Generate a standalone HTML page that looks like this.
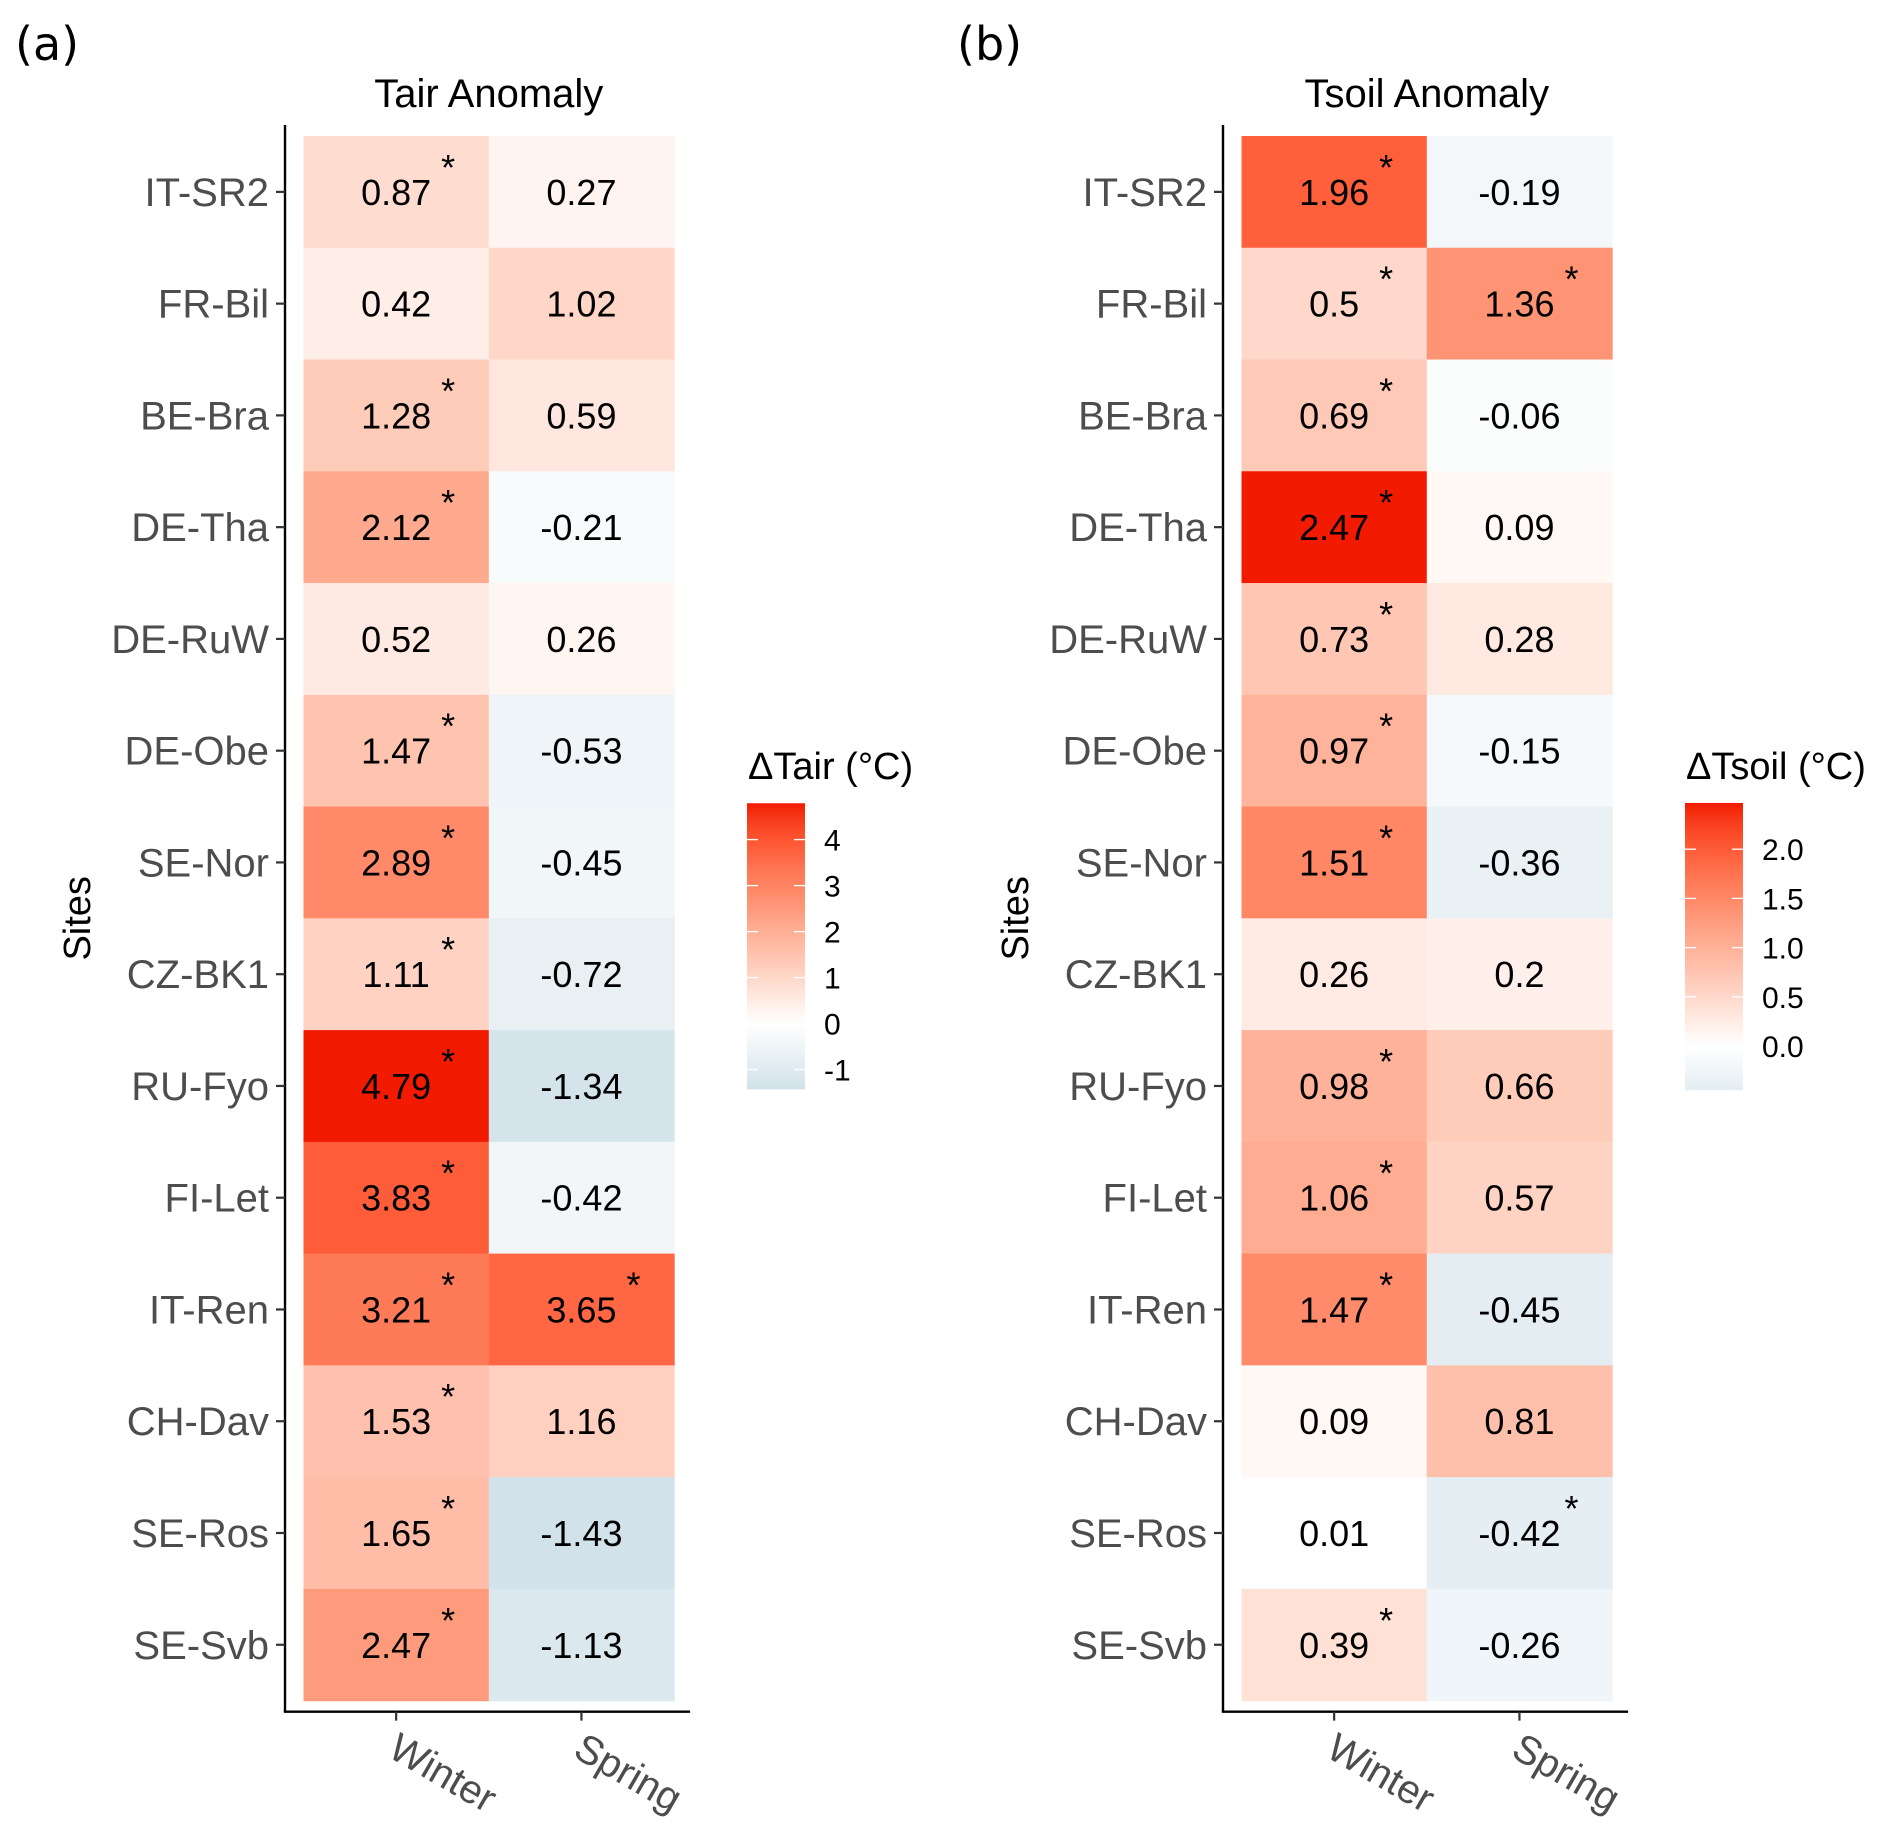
<!DOCTYPE html>
<html><head><meta charset="utf-8">
<style>
html,body{margin:0;padding:0;background:#fff;}
svg{display:block;font-family:"Liberation Sans",Arial,sans-serif;}
</style></head>
<body>
<svg id="chart" width="1892" height="1835" viewBox="0 0 1892 1835" xmlns="http://www.w3.org/2000/svg">
<defs id="defs"></defs>
</svg>
<script>
const sites = ["IT-SR2","FR-Bil","BE-Bra","DE-Tha","DE-RuW","DE-Obe","SE-Nor","CZ-BK1","RU-Fyo","FI-Let","IT-Ren","CH-Dav","SE-Ros","SE-Svb"];
const seasons = ["Winter","Spring"];
const tairWinter = [0.87,0.42,1.28,2.12,0.52,1.47,2.89,1.11,4.79,3.83,3.21,1.53,1.65,2.47];
const tairSpring = [0.27,1.02,0.59,-0.21,0.26,-0.53,-0.45,-0.72,-1.34,-0.42,3.65,1.16,-1.43,-1.13];
const tairWinterSig = [1,0,1,1,0,1,1,1,1,1,1,1,1,1];
const tairSpringSig = [0,0,0,0,0,0,0,0,0,0,1,0,0,0];
const tsoilWinter = [1.96,0.5,0.69,2.47,0.73,0.97,1.51,0.26,0.98,1.06,1.47,0.09,0.01,0.39];
const tsoilSpring = [-0.19,1.36,-0.06,0.09,0.28,-0.15,-0.36,0.2,0.66,0.57,-0.45,0.81,-0.42,-0.26];
const tsoilWinterSig = [1,1,1,1,1,1,1,0,1,1,1,0,0,1];
const tsoilSpringSig = [0,1,0,0,0,0,0,0,0,0,0,0,1,0];
const tairTicks = [-1,0,1,2,3,4];
const tsoilTicks = ["0.0","0.5","1.0","1.5","2.0"];

const NS="http://www.w3.org/2000/svg";
const svg=document.getElementById('chart');
const defs=document.getElementById('defs');
function mk(tag,attrs,parent){const e=document.createElementNS(NS,tag);for(const k in attrs)e.setAttribute(k,attrs[k]);(parent||svg).appendChild(e);return e;}

function s2l(c){c/=255;return c<=0.04045?c/12.92:Math.pow((c+0.055)/1.055,2.4);}
function l2s(c){c=c<=0.0031308?12.92*c:1.055*Math.pow(c,1/2.4)-0.055;return Math.max(0,Math.min(255,Math.round(c*255)));}
function rgb2lab(r,g,b){r=s2l(r);g=s2l(g);b=s2l(b);
 let x=(r*0.4124+g*0.3576+b*0.1805)/0.95047,y=(r*0.2126+g*0.7152+b*0.0722),z=(r*0.0193+g*0.1192+b*0.9505)/1.08883;
 const f=t=>t>0.008856?Math.cbrt(t):7.787*t+16/116;x=f(x);y=f(y);z=f(z);return[116*y-16,500*(x-y),200*(y-z)];}
function lab2rgb(L,a,bb){let y=(L+16)/116,x=a/500+y,z=y-bb/200;
 const fi=t=>t*t*t>0.008856?t*t*t:(t-16/116)/7.787;x=fi(x)*0.95047;y=fi(y);z=fi(z)*1.08883;
 const r=x*3.2406+y*-1.5372+z*-0.4986,g=x*-0.9689+y*1.8758+z*0.0415,b=x*0.0557+y*-0.2040+z*1.0570;
 return `rgb(${l2s(r)},${l2s(g)},${l2s(b)})`;}
const HI=rgb2lab(242,26,0), LO=rgb2lab(100,160,186), WH=rgb2lab(255,255,255);
function colorFor(v,maxAbs){const t=Math.min(1,Math.abs(v)/maxAbs);const c=v>=0?HI:LO;
 return lab2rgb(WH[0]+(c[0]-WH[0])*t,WH[1]+(c[1]-WH[1])*t,WH[2]+(c[2]-WH[2])*t);}

const gridTop=136, rowH=111.76, colW=185.3;
function drawPanel(cfg){
 const {x0,axisX,letter,letterX,title,winter,spring,wSig,sSig,legTitle,legX,legTicks,pxPerUnit,zeroY,key}=cfg;
 const vals=winter.concat(spring);const mx=Math.max(...vals),mn=Math.min(...vals);const maxAbs=Math.max(mx,-mn);
 const yScale=i=>gridTop+i*rowH, xScale=j=>x0+j*colW;
 const g=mk('g',{});
 
 
 const L=mk('text',{x:letterX,y:60,'font-size':46,fill:'#000','font-family':'"DejaVu Sans",sans-serif'},g);L.textContent=letter;
 
 
 const T=mk('text',{x:x0+colW,y:107,'font-size':40,'text-anchor':'middle',fill:'#000'},g);T.textContent=title;
 
 
 [winter,spring].forEach((arr,j)=>{const sig=j?sSig:wSig;
  arr.forEach((v,i)=>{
   const r=mk('rect',{x:xScale(j),y:yScale(i),width:colW+0.6,height:rowH+0.6,fill:colorFor(v,maxAbs)},g);
   
   
   const cx=xScale(j)+colW/2, cy=yScale(i)+rowH/2;
   const t=mk('text',{x:cx,y:cy+13,'font-size':36,'text-anchor':'middle',fill:'#000'},g);t.textContent=String(v);
   
   
   if(sig[i]){const s=mk('text',{x:cx+52,y:cy-12,'font-size':36,'text-anchor':'middle',fill:'#000'},g);s.textContent='*';
    
    }
  });});
 const bottom=gridTop+14*rowH;
 const ya=mk('line',{x1:axisX,y1:125,x2:axisX,y2:bottom+11,stroke:'#000','stroke-width':2.4},g);
 
 
 const xa=mk('line',{x1:axisX-1.2,y1:bottom+11,x2:x0+2*colW+16,y2:bottom+11,stroke:'#000','stroke-width':2.4},g);
 
 
 sites.forEach((s,i)=>{const cy=yScale(i)+rowH/2;
  mk('line',{x1:axisX-9,y1:cy,x2:axisX,y2:cy,stroke:'#333','stroke-width':2.2},g);
  const t=mk('text',{x:axisX-16,y:cy+14,'font-size':40,'text-anchor':'end',fill:'#4d4d4d'},g);t.textContent=s;
  
  });
 seasons.forEach((s,j)=>{const cx=xScale(j)+colW/2;
  mk('line',{x1:cx,y1:bottom+11,x2:cx,y2:bottom+20,stroke:'#333','stroke-width':2.2},g);
  const t=mk('text',{x:cx-10,y:bottom+55,'font-size':40,fill:'#4d4d4d',transform:`rotate(30 ${cx-10} ${bottom+55})`},g);t.textContent=s;
  
  });
 const yt=mk('text',{x:0,y:0,'font-size':38,'text-anchor':'middle',fill:'#000',transform:`translate(${axisX-195} ${gridTop+7*rowH}) rotate(-90)`},g);yt.textContent='Sites';
 
 
 const barTop=zeroY-mx*pxPerUnit, barBot=zeroY-mn*pxPerUnit;
 const gid='grad'+key;const lg=mk('linearGradient',{id:gid,x1:0,y1:0,x2:0,y2:1},defs);
 for(let k=0;k<=40;k++){const v=mx-(mx-mn)*k/40;mk('stop',{offset:(k/40),'stop-color':colorFor(v,maxAbs)},lg);}
 const lt=mk('text',{x:legX+1,y:779,'font-size':38,fill:'#000'},g);lt.textContent=legTitle;
 
 
 const bar=mk('rect',{x:legX,y:barTop,width:58,height:barBot-barTop,fill:`url(#${gid})`},g);
 
 
 legTicks.forEach(tk=>{const v=parseFloat(tk);const y=zeroY-v*pxPerUnit;
  if(v!==0){mk('line',{x1:legX,y1:y,x2:legX+11,y2:y,stroke:'#fff','stroke-width':1.3},g);
  mk('line',{x1:legX+47,y1:y,x2:legX+58,y2:y,stroke:'#fff','stroke-width':1.3},g);}
  const t=mk('text',{x:legX+77,y:y+11,'font-size':30,fill:'#000'},g);t.textContent=String(tk);
  
  });
}
drawPanel({key:'tair',x0:303.5,axisX:285,letter:'(a)',letterX:15,title:'Tair Anomaly',winter:tairWinter,spring:tairSpring,wSig:tairWinterSig,sSig:tairSpringSig,legTitle:'ΔTair (°C)',legX:747,legTicks:tairTicks,pxPerUnit:46,zeroY:1023.6});
drawPanel({key:'tsoil',x0:1241.5,axisX:1223,letter:'(b)',letterX:957,title:'Tsoil Anomaly',winter:tsoilWinter,spring:tsoilSpring,wSig:tsoilWinterSig,sSig:tsoilSpringSig,legTitle:'ΔTsoil (°C)',legX:1685,legTicks:tsoilTicks,pxPerUnit:98.4,zeroY:1046});
</script>
</body></html>
